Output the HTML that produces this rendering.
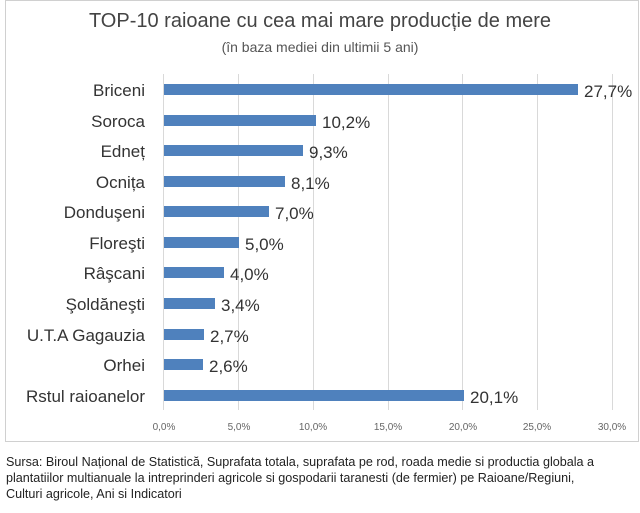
<!DOCTYPE html>
<html><head><meta charset="utf-8"><style>
body{margin:0;background:#fff;width:640px;height:508px;overflow:hidden;font-family:"Liberation Sans",sans-serif;}
</style></head><body>
<svg width="640" height="508" xmlns="http://www.w3.org/2000/svg" font-family="Liberation Sans, sans-serif">
<rect x="5.5" y="0.5" width="633" height="441" fill="#fff" stroke="#d0d0d0"/>
<text x="320" y="27" text-anchor="middle" font-size="20" fill="#444">TOP-10 raioane cu cea mai mare producție de mere</text>
<text x="320" y="52" text-anchor="middle" font-size="14" fill="#555">(în baza mediei din ultimii 5 ani)</text>
<g stroke="#d9d9d9" stroke-width="1">
<line x1="163.5" y1="74" x2="163.5" y2="410"/>
<line x1="238.5" y1="74" x2="238.5" y2="410"/>
<line x1="313.5" y1="74" x2="313.5" y2="410"/>
<line x1="388.5" y1="74" x2="388.5" y2="410"/>
<line x1="462.5" y1="74" x2="462.5" y2="410"/>
<line x1="537.5" y1="74" x2="537.5" y2="410"/>
<line x1="612.5" y1="74" x2="612.5" y2="410"/>
</g>
<g font-size="10" fill="#666" text-anchor="middle">
<text x="164" y="430">0,0%</text><text x="239" y="430">5,0%</text><text x="313" y="430">10,0%</text>
<text x="388" y="430">15,0%</text><text x="463" y="430">20,0%</text><text x="537" y="430">25,0%</text><text x="612" y="430">30,0%</text>
</g>
<g fill="#4f81bd">
<rect x="164" y="84" width="414" height="11"/>
<rect x="164" y="115" width="152" height="11"/>
<rect x="164" y="145" width="139" height="11"/>
<rect x="164" y="176" width="121" height="11"/>
<rect x="164" y="206" width="105" height="11"/>
<rect x="164" y="237" width="75" height="11"/>
<rect x="164" y="267" width="60" height="11"/>
<rect x="164" y="298" width="51" height="11"/>
<rect x="164" y="329" width="40" height="11"/>
<rect x="164" y="359" width="39" height="11"/>
<rect x="164" y="390" width="300" height="11"/>
</g>
<g font-size="17" fill="#333" text-anchor="end">
<text x="145" y="96">Briceni</text><text x="145" y="127">Soroca</text><text x="145" y="157">Edneț</text>
<text x="145" y="188">Ocnița</text><text x="145" y="218">Donduşeni</text><text x="145" y="249">Floreşti</text>
<text x="145" y="279">Râşcani</text><text x="145" y="310">Şoldăneşti</text><text x="145" y="341">U.T.A Gagauzia</text>
<text x="145" y="371">Orhei</text><text x="145" y="402">Rstul raioanelor</text>
</g>
<g font-size="17" fill="#333">
<text x="584" y="97">27,7%</text><text x="322" y="128">10,2%</text><text x="309" y="158">9,3%</text>
<text x="291" y="189">8,1%</text><text x="275" y="219">7,0%</text><text x="245" y="250">5,0%</text>
<text x="230" y="280">4,0%</text><text x="221" y="311">3,4%</text><text x="210" y="342">2,7%</text>
<text x="209" y="372">2,6%</text><text x="470" y="403">20,1%</text>
</g>
<g font-size="12.6" fill="#222">
<text x="6" y="466">Sursa: Biroul Național de Statistică, Suprafata totala, suprafata pe rod, roada medie si productia globala a</text>
<text x="6" y="482">plantatiilor multianuale la intreprinderi agricole si gospodarii taranesti (de fermier) pe Raioane/Regiuni,</text>
<text x="6" y="498">Culturi agricole, Ani si Indicatori</text>
</g>
</svg>
</body></html>
